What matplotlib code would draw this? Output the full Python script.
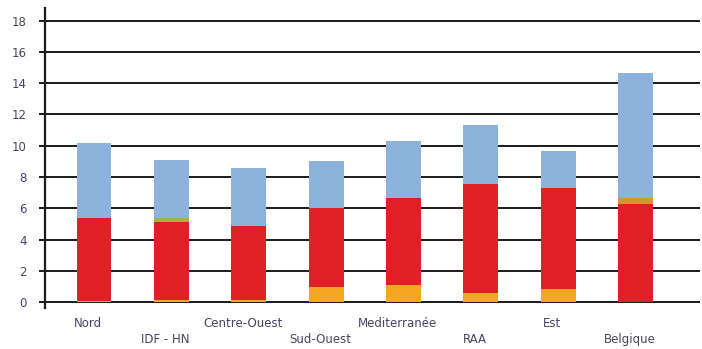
import numpy as np
import matplotlib
matplotlib.use("Agg")
import matplotlib.pyplot as plt
import matplotlib.transforms as mtransforms

regions = ["Nord", "IDF - HN", "Centre-Ouest", "Sud-Ouest",
           "Mediterranée", "RAA", "Est", "Belgique"]

# stacked segments, bottom to top
orange = [0.10, 0.15, 0.12, 0.97, 1.08, 0.58, 0.84, 0.05]
red    = [5.28, 4.98, 4.75, 5.03, 5.56, 6.95, 6.44, 6.23]
green  = [0.00, 0.25, 0.00, 0.00, 0.00, 0.00, 0.00, 0.00]
tan    = [0.00, 0.00, 0.00, 0.00, 0.00, 0.00, 0.00, 0.40]
blue   = [4.82, 3.70, 3.70, 3.04, 3.68, 3.77, 2.40, 7.94]

series = [(orange, "#f5a623"), (red, "#e01f26"), (green, "#9cba3a"),
          (tan, "#d6962e"), (blue, "#8db3dd")]

text_col = "#4a4262"

fig = plt.figure(figsize=(7.02, 3.49), dpi=100)
ax = fig.add_axes([0.0641, 0.1175, 0.9329, 0.8595])

x = np.arange(len(regions))
bottom = np.zeros(len(regions))
for vals, col in series:
    vals = np.array(vals)
    ax.bar(x, vals, width=0.45, bottom=bottom, color=col, zorder=3)
    bottom += vals

ax.set_xlim(-0.633, 7.83)
ax.set_ylim(-0.36, 18.8)
ax.set_yticks(np.arange(0, 19, 2))
ax.yaxis.grid(True, color="#1a1a1a", linewidth=1.4, zorder=1)
ax.set_axisbelow(True)

for s in ["top", "right", "bottom"]:
    ax.spines[s].set_visible(False)
ax.spines["left"].set_linewidth(1.6)
ax.spines["left"].set_color("#1a1a1a")

ax.tick_params(axis="y", length=4, width=1.4, color="#1a1a1a", pad=9,
               labelsize=8.5, labelcolor=text_col)
ax.tick_params(axis="x", length=0)
ax.set_xticks(x)
ax.set_xticklabels([])

# staggered category labels
shift = mtransforms.ScaledTranslation(-6 / 100, 0, fig.dpi_scale_trans)
for i, name in enumerate(regions):
    y = -1.35 if i % 2 == 0 else -2.4
    ax.text(i, y, name, ha="center", va="center", fontsize=8.5,
            color=text_col, transform=ax.transData + shift, clip_on=False)

fig.savefig("out.png", dpi=100)
